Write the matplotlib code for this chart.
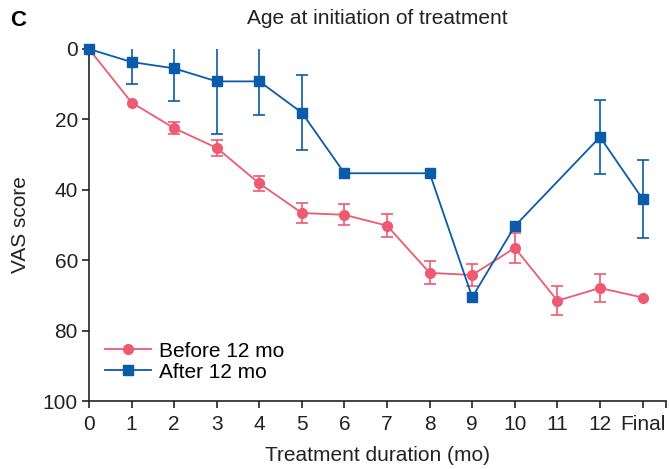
import numpy as np
import matplotlib
matplotlib.use("Agg")
import matplotlib.pyplot as plt

plt.rcParams['font.family'] = ['Liberation Sans', 'DejaVu Sans']

tick_labels = ["0", "1", "2", "3", "4", "5", "6", "7", "8", "9", "10", "11", "12", "Final"]

# Before 12 mo
before_x = [0, 1, 2, 3, 4, 5, 6, 7, 8, 9, 10, 11, 12, 13]
before_y = [0, 15.2, 22.5, 28.1, 38.2, 46.6, 47.1, 50.2, 63.6, 64.2, 56.5, 71.5, 67.9, 70.6]
before_err = [np.nan, np.nan, 1.7, 2.3, 2.1, 2.9, 3.0, 3.2, 3.3, 3.1, 4.2, 4.1, 4.0, np.nan]

# After 12 mo
after_x = [0, 1, 2, 3, 4, 5, 6, 8, 9, 10, 12, 13]
after_y = [0, 3.7, 5.5, 9.2, 9.2, 18.1, 35.3, 35.3, 70.5, 50.3, 25.0, 42.6]
after_err = [np.nan, 6.2, 9.3, 15.0, 9.6, 10.6, np.nan, np.nan, np.nan, np.nan, 10.6, 11.0]

red = '#EE5A72'
blue = '#0A5BAA'
fs = 15

fig = plt.figure(figsize=(6.7, 4.69), dpi=100)
ax = fig.add_axes([89/670, 1-401/469, (666-89)/670, (401-49)/469])

ax.errorbar(before_x, before_y, yerr=before_err, fmt='none', ecolor=red,
            elinewidth=1.2, capsize=4.3, capthick=1.2, zorder=2)
ax.plot(before_x, before_y, '-o', color=red, lw=1.3, markersize=7,
        clip_on=False, zorder=3, label='Before 12 mo')

ax.errorbar(after_x, after_y, yerr=after_err, fmt='none', ecolor=blue,
            elinewidth=1.2, capsize=4.3, capthick=1.2, zorder=4)
ax.plot(after_x, after_y, '-s', color=blue, lw=1.3, markersize=6.5,
        clip_on=False, zorder=5, label='After 12 mo')

ax.set_xlim(0, 13.55)
ax.set_ylim(100, 0)
ax.set_xticks(list(range(14)) + [13.55])
ax.set_xticklabels(tick_labels + [""])
ax.set_yticks([0, 20, 40, 60, 80, 100])

for s in ['top', 'right']:
    ax.spines[s].set_visible(False)
for s in ['left', 'bottom']:
    ax.spines[s].set_linewidth(1.2)
    ax.spines[s].set_color('#222222')

ax.tick_params(axis='both', direction='out', length=5, width=1.2, labelsize=fs,
               colors='#222222', pad=3)
ax.tick_params(axis='x', pad=5)

ax.set_xlabel('Treatment duration (mo)', fontsize=fs, labelpad=9, color='#222222')
ax.set_ylabel('VAS score', fontsize=fs, labelpad=9, color='#222222')
ax.set_title('Age at initiation of treatment', fontsize=fs, pad=18, color='#222222')

fig.text(10/670, 1-20/469, 'C', fontsize=16, fontweight='bold', va='center', ha='left')

leg = ax.legend(loc='lower left', bbox_to_anchor=(0.028, 0.055), frameon=False,
                fontsize=fs, handlelength=2.2, handletextpad=0.4, labelspacing=0.1,
                borderaxespad=0, borderpad=0)

fig.savefig('out.png', dpi=100)
